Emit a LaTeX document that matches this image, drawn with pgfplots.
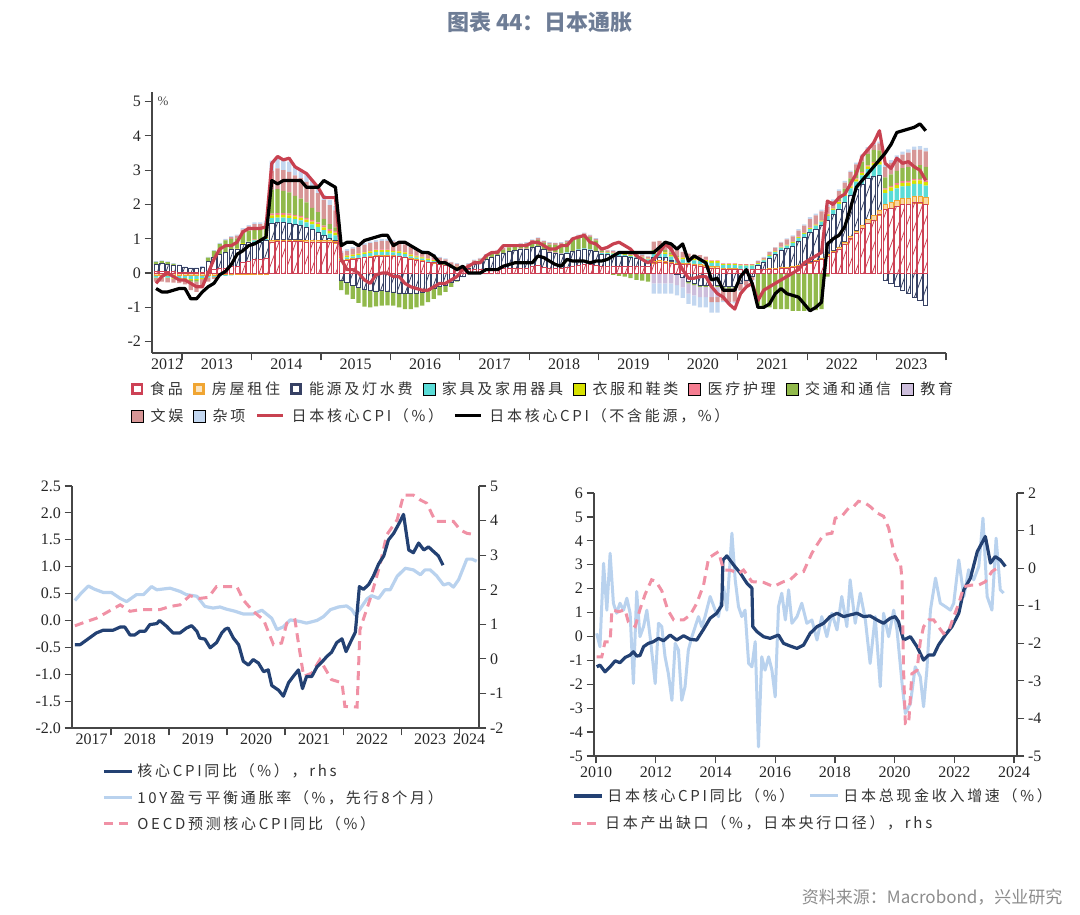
\documentclass[border=0pt]{standalone}
\usepackage{fontspec}
\setmainfont{Liberation Serif}
\newfontfamily\cjk[LetterSpace=18]{Noto Sans CJK SC}
\newfontfamily\cjkt{Noto Sans CJK SC}
\usepackage{pgfplots}
\usepackage{pgfplotstable}
\pgfplotsset{compat=1.18}
\usetikzlibrary{patterns.meta}

\definecolor{cFood}{RGB}{205,65,85}
\definecolor{cRent}{RGB}{240,165,50}
\definecolor{cEnergy}{RGB}{55,65,100}
\definecolor{cFurn}{RGB}{90,220,215}
\definecolor{cCloth}{RGB}{215,225,0}
\definecolor{cMed}{RGB}{245,125,145}
\definecolor{cTrans}{RGB}{145,185,75}
\definecolor{cEdu}{RGB}{205,190,220}
\definecolor{cEnt}{RGB}{215,150,150}
\definecolor{cMisc}{RGB}{195,215,240}
\definecolor{cRedLine}{RGB}{200,65,80}
\definecolor{cNavy}{RGB}{35,65,115}
\definecolor{cLight}{RGB}{185,210,238}
\definecolor{cPink}{RGB}{240,145,165}
\definecolor{axgray}{RGB}{70,70,70}
\definecolor{titlec}{RGB}{110,125,150}

\pgfplotstableread{
i F R E U C M T D N S L K
7 0.05 -0.05 0.20 -0.08 -0.02 0 0.08 0 -0.10 0.02 -0.30 -0.45
8 0.05 -0.05 0.22 -0.08 -0.02 0 0.08 0 -0.10 0.02 -0.10 -0.55
9 0.06 -0.05 0.20 -0.08 -0.02 0 0.06 0 -0.12 0.02 0.00 -0.55
10 0.04 -0.05 0.18 -0.09 -0.02 0 0.05 0 -0.12 0.02 -0.10 -0.50
11 0.03 -0.05 0.18 -0.10 -0.02 0 0.02 0 -0.12 0.02 -0.20 -0.45
12 0.02 -0.05 0.15 -0.10 -0.03 0 0.00 0 -0.15 0.02 -0.20 -0.45
13 0.02 -0.05 0.12 -0.12 -0.03 0 -0.05 0 -0.25 0.02 -0.30 -0.75
14 0.02 -0.05 0.12 -0.12 -0.03 0 -0.05 0 -0.30 0.02 -0.40 -0.75
15 0.03 -0.05 0.15 -0.10 -0.03 0 0.00 0 -0.20 0.02 -0.40 -0.55
16 0.05 -0.05 0.30 -0.08 -0.02 0 0.10 0 -0.10 0.02 0.00 -0.40
17 0.10 -0.05 0.35 -0.06 -0.01 0 0.20 0 -0.05 0.02 0.40 -0.30
18 0.15 -0.04 0.40 -0.05 0 0 0.30 0 0 0.03 0.70 -0.05
19 0.15 -0.04 0.45 -0.04 0 0 0.35 0 0.02 0.03 0.80 0.05
20 0.20 -0.04 0.50 -0.03 0 0 0.30 0 0.05 0.03 0.80 0.25
21 0.20 -0.03 0.50 -0.02 0.01 0 0.30 0 0.08 0.03 0.90 0.55
22 0.30 -0.03 0.55 0 0.02 0 0.30 0 0.10 0.04 1.20 0.65
23 0.35 -0.03 0.55 0.02 0.02 0 0.30 0 0.12 0.04 1.30 0.80
24 0.40 -0.02 0.50 0.05 0.02 0.01 0.30 0 0.15 0.05 1.30 0.85
25 0.40 -0.02 0.50 0.05 0.02 0.01 0.30 0 0.15 0.05 1.30 0.95
26 0.42 -0.02 0.52 0.05 0.02 0.01 0.30 0 0.15 0.05 1.35 1.05
27 0.90 0.05 0.50 0.15 0.08 0.05 0.70 0 0.55 0.30 3.20 2.70
28 0.92 0.05 0.50 0.15 0.08 0.05 0.70 0 0.60 0.30 3.40 2.60
29 0.92 0.05 0.50 0.15 0.08 0.05 0.65 0 0.60 0.30 3.30 2.70
30 0.92 0.05 0.48 0.15 0.08 0.05 0.62 0 0.60 0.30 3.35 2.70
31 0.92 0.05 0.45 0.15 0.08 0.05 0.55 0 0.60 0.25 3.10 2.70
32 0.92 0.05 0.42 0.15 0.08 0.05 0.50 0 0.60 0.25 3.00 2.70
33 0.90 0.05 0.38 0.15 0.08 0.05 0.45 0 0.60 0.22 2.90 2.50
34 0.90 0.05 0.32 0.15 0.08 0.05 0.35 0 0.60 0.20 2.70 2.50
35 0.90 0.05 0.25 0.15 0.08 0.05 0.30 0 0.55 0.20 2.50 2.50
36 0.90 0.05 0.15 0.15 0.08 0.05 0.20 0 0.55 0.15 2.20 2.70
37 0.90 0.05 0.05 0.15 0.08 0.05 0.15 0 0.55 0.15 2.20 2.60
38 0.88 0.05 0.02 0.15 0.08 0.05 0.10 0 0.50 0.12 2.20 2.50
39 0.35 0.02 -0.20 0.05 0.05 0.02 -0.30 0 0.10 0.05 0.40 0.80
40 0.38 0.02 -0.28 0.06 0.05 0.02 -0.35 0 0.12 0.05 0.10 0.90
41 0.40 0.02 -0.35 0.07 0.05 0.02 -0.40 0 0.15 0.05 0.10 0.90
42 0.42 0.02 -0.42 0.08 0.05 0.02 -0.45 0 0.17 0.05 0.00 0.80
43 0.45 0.02 -0.48 0.08 0.05 0.02 -0.50 0 0.20 0.05 -0.20 0.95
44 0.47 0.02 -0.50 0.09 0.05 0.02 -0.50 0 0.22 0.05 -0.30 1.00
45 0.50 0.02 -0.52 0.10 0.05 0.02 -0.45 0 0.22 0.05 -0.05 1.05
46 0.50 0.02 -0.50 0.10 0.05 0.02 -0.45 0 0.25 0.05 0.00 1.10
47 0.50 0.02 -0.52 0.10 0.05 0.02 -0.42 0 0.25 0.05 0.00 1.10
48 0.50 0.02 -0.55 0.08 0.05 0.02 -0.40 0 0.25 0.05 -0.10 0.80
49 0.48 0.02 -0.58 0.08 0.05 0.02 -0.42 0 0.23 0.05 -0.10 0.90
50 0.45 0.02 -0.60 0.08 0.05 0.02 -0.45 0 0.22 0.04 -0.30 0.90
51 0.40 0.02 -0.60 0.07 0.05 0.02 -0.45 0 0.20 0.04 -0.40 0.80
52 0.38 0.01 -0.58 0.06 0.04 0.02 -0.42 0 0.18 0.04 -0.45 0.70
53 0.35 0.01 -0.55 0.06 0.04 0.02 -0.40 0 0.15 0.04 -0.50 0.60
54 0.32 0.01 -0.50 0.05 0.04 0.02 -0.35 0 0.15 0.03 -0.50 0.60
55 0.30 0.01 -0.45 0.04 0.03 0.02 -0.30 0 0.12 0.03 -0.40 0.50
56 0.25 0.01 -0.40 0.03 0.03 0.02 -0.25 0 0.10 0.03 -0.30 0.30
57 0.22 0.01 -0.35 0.02 0.03 0.02 -0.20 0 0.10 0.03 -0.30 0.30
58 0.18 0.01 -0.28 0.01 0.02 0.01 -0.12 0 0.08 0.02 -0.20 0.20
59 0.15 0.01 -0.20 0 0.02 0.01 -0.05 0 0.08 0.02 -0.10 0.10
60 0.10 0 -0.10 -0.02 0.01 0.01 0.02 0 0.05 0.02 0.10 0.20
61 0.10 0 0.05 -0.03 0.01 0.01 0.05 0 0.05 0.02 0.20 0.00
62 0.10 0 0.15 -0.03 0.01 0.01 0.05 0 0.05 0.02 0.30 0.00
63 0.10 0 0.20 -0.03 0 0.01 0.06 0 0.05 0.02 0.30 0.00
64 0.10 0 0.30 -0.03 0 0.01 0.07 0 0.05 0.02 0.50 0.10
65 0.11 0 0.35 -0.03 0 0.01 0.08 0 0.05 0.02 0.60 0.10
66 0.12 0 0.40 -0.03 0 0.01 0.08 0 0.05 0.02 0.60 0.10
67 0.13 0 0.45 -0.03 0 0.01 0.09 0 0.05 0.02 0.80 0.20
68 0.14 0 0.50 -0.02 0 0.01 0.10 0 0.05 0.02 0.80 0.25
69 0.15 0 0.50 -0.02 0 0.01 0.10 0 0.05 0.02 0.80 0.30
70 0.15 0 0.55 -0.02 0 0.01 0.10 0 0.05 0.02 0.80 0.30
71 0.15 0 0.55 -0.02 0 0.01 0.12 0 0.05 0.02 0.80 0.30
72 0.20 0 0.55 0 0 0.01 0.15 0 0.05 0.02 0.90 0.30
73 0.22 0 0.55 0.01 0 0.01 0.18 0 0.05 0.02 0.90 0.50
74 0.18 0 0.50 0.01 0 0.01 0.18 0 0.05 0.02 0.80 0.45
75 0.15 0 0.45 0.02 0 0.01 0.20 0 0.05 0.02 0.70 0.35
76 0.15 0 0.42 0.02 0 0.01 0.22 0 0.05 0.02 0.70 0.25
77 0.15 0 0.40 0.02 0 0.01 0.25 0 0.05 0.02 0.80 0.20
78 0.18 0 0.40 0.02 0 0.01 0.28 0 0.05 0.02 0.80 0.40
79 0.20 0 0.42 0.02 0 0.01 0.32 0 0.05 0.02 1.00 0.35
80 0.22 0 0.45 0.02 0 0.01 0.35 0 0.05 0.02 1.05 0.35
81 0.25 0 0.45 0.02 0 0.01 0.38 0 0.05 0.02 1.10 0.35
82 0.25 0 0.42 0.02 0 0.01 0.35 0 0.05 0.02 0.90 0.30
83 0.22 0 0.40 0.02 0 0.01 0.30 0 0.05 0.02 0.85 0.35
84 0.20 0 0.35 0.03 0.01 0.01 0.05 0 0.05 0.02 0.70 0.35
85 0.20 0 0.35 0.04 0.01 0.01 0 0 0.05 0.02 0.75 0.40
86 0.20 0 0.32 0.05 0.02 0.01 -0.05 0 0.05 0.02 0.85 0.50
87 0.20 0 0.30 0.05 0.02 0.01 -0.08 0 0.05 0.02 0.90 0.60
88 0.20 0 0.28 0.05 0.02 0.01 -0.10 0 0.05 0.02 0.80 0.60
89 0.20 0 0.25 0.05 0.02 0.01 -0.15 0 0.05 0.02 0.70 0.60
90 0.20 0 0.22 0.05 0.02 0.01 -0.20 0 0.05 0.02 0.50 0.60
91 0.20 0 0.20 0.05 0.02 0.01 -0.22 0 0.05 0.02 0.40 0.60
92 0.20 0 0.15 0.05 0.02 0.01 -0.25 0 0.05 0.02 0.30 0.60
93 0.30 0.05 0.10 0.10 0.05 0.02 0.05 -0.30 0.25 -0.30 0.40 0.60
94 0.32 0.05 0.10 0.10 0.05 0.02 0.05 -0.30 0.25 -0.30 0.60 0.75
95 0.30 0.05 0.10 0.10 0.05 0.02 0.05 -0.30 0.25 -0.30 0.85 0.90
96 0.28 0.05 0.05 0.10 0.05 0.02 0.05 -0.30 0.22 -0.30 0.70 0.85
97 0.25 0.05 -0.05 0.10 0.05 0.02 0.03 -0.30 0.20 -0.30 0.40 0.70
98 0.25 0.05 -0.12 0.10 0.05 0.02 0 -0.30 0.15 -0.30 0.10 0.85
99 0.25 0.05 -0.25 0.10 0.05 0.02 -0.05 -0.30 0.10 -0.30 -0.15 0.35
100 0.22 0.05 -0.30 0.10 0.05 0.02 -0.05 -0.30 0.10 -0.30 -0.15 0.50
101 0.20 0.05 -0.35 0.10 0.05 0.02 -0.05 -0.30 0.10 -0.30 -0.10 0.40
102 0.18 0.05 -0.35 0.10 0.05 0.02 -0.05 -0.30 0.08 -0.30 -0.10 0.30
103 0.15 0.05 -0.35 0.10 0.05 0.02 -0.05 -0.30 -0.15 -0.30 -0.40 -0.20
104 0.15 0.05 -0.35 0.10 0.05 0.02 -0.05 -0.30 -0.15 -0.30 -0.60 -0.15
105 0.10 0.03 -0.40 0.10 0.03 0.02 -0.05 0 -0.35 -0.05 -0.70 -0.50
106 0.10 0.03 -0.40 0.10 0.03 0.02 -0.05 0 -0.40 -0.05 -0.90 -0.50
107 0.10 0.03 -0.38 0.10 0.03 0.02 -0.05 0 -0.40 -0.05 -1.05 -0.50
108 0.10 0.02 -0.30 0.10 0.02 0.02 0 0 -0.20 -0.02 -0.60 -0.10
109 0.10 0.02 -0.20 0.10 0.02 0.02 0 0 -0.15 -0.02 -0.40 0.10
110 0.10 0.02 -0.10 0.10 0.02 0.02 0 0 -0.10 -0.02 -0.30 -0.30
111 0.10 0.02 0.10 0.05 0.02 0.01 -0.95 0 0.05 0.02 -0.80 -1.00
112 0.10 0.02 0.20 0.05 0.02 0.01 -1.00 0 0.05 0.02 -0.50 -1.00
113 0.12 0.02 0.30 0.06 0.02 0.01 -1.00 0 0.08 0.02 -0.40 -0.90
114 0.12 0.02 0.40 0.07 0.02 0.01 -1.05 0 0.10 0.02 -0.30 -0.60
115 0.14 0.02 0.50 0.08 0.02 0.01 -1.05 0 0.12 0.02 -0.20 -0.45
116 0.15 0.02 0.55 0.08 0.02 0.01 -1.05 0 0.15 0.03 -0.10 -0.60
117 0.17 0.02 0.60 0.09 0.03 0.01 -1.10 0 0.15 0.03 0.00 -0.65
118 0.20 0.02 0.70 0.10 0.03 0.01 -1.10 0 0.18 0.04 0.10 -0.70
119 0.22 0.02 0.80 0.10 0.03 0.01 -1.10 0 0.20 0.04 0.30 -0.90
120 0.30 0.03 0.85 0.10 0.03 0.02 -1.10 0 0.25 0.05 0.40 -1.10
121 0.35 0.03 0.90 0.10 0.03 0.02 -1.08 0 0.25 0.05 0.50 -1.00
122 0.40 0.04 0.95 0.11 0.03 0.02 -1.05 0 0.25 0.05 0.60 -0.85
123 0.50 0.05 1.00 0.12 0.04 0.02 -0.10 0 0.20 0.05 2.10 0.85
124 0.60 0.05 1.05 0.14 0.04 0.02 -0.02 0 0.20 0.05 2.00 1.00
125 0.70 0.06 1.10 0.16 0.05 0.02 0.10 0 0.20 0.05 2.20 1.10
126 0.85 0.06 1.15 0.18 0.05 0.02 0.15 0 0.18 0.05 2.30 1.35
127 1.00 0.07 1.20 0.20 0.06 0.03 0.20 0 0.18 0.05 2.60 1.90
128 1.15 0.08 1.22 0.22 0.06 0.03 0.25 0 0.16 0.05 2.90 2.50
129 1.30 0.10 1.20 0.25 0.07 0.03 0.30 0 0.15 0.05 3.40 2.70
130 1.45 0.12 1.18 0.28 0.08 0.03 0.33 0 0.15 0.05 3.60 2.90
131 1.55 0.13 1.15 0.30 0.08 0.03 0.35 0 0.15 0.05 3.80 3.10
132 1.70 0.14 1.00 0.32 0.09 0.03 0.30 0 0.20 0.05 4.15 3.30
133 1.85 0.15 -0.20 0.33 0.10 0.04 0.32 0 0.30 0.08 3.20 3.50
134 1.90 0.16 -0.30 0.34 0.10 0.04 0.34 0 0.33 0.08 3.05 3.75
135 1.95 0.17 -0.40 0.35 0.10 0.05 0.36 0 0.36 0.09 3.35 4.10
136 2.00 0.18 -0.50 0.35 0.10 0.05 0.38 0 0.39 0.09 3.20 4.15
137 2.00 0.19 -0.60 0.35 0.10 0.05 0.40 0 0.42 0.10 3.25 4.20
138 2.05 0.20 -0.70 0.35 0.10 0.05 0.40 0 0.44 0.10 3.10 4.25
139 2.05 0.20 -0.80 0.35 0.10 0.05 0.40 0 0.45 0.10 3.00 4.35
140 2.00 0.20 -0.95 0.35 0.10 0.05 0.40 0 0.45 0.10 2.70 4.15
}\cpicomp

\pgfplotsset{
  sqleg/.style={legend image code/.code={\fill[##1] (0pt,-6pt) rectangle (12pt,6pt);}},
  sqlegh/.style={legend image code/.code={\draw[##1] (1.3pt,-4.7pt) rectangle (10.7pt,4.7pt);}},
  linleg/.style={legend image code/.code={\draw[##1] (0pt,0pt) -- (26pt,0pt);}},
  linlegb/.style={legend image code/.code={\draw[##1] (0pt,0pt) -- (28pt,0pt);}},
  myleg/.style={legend style={draw=none, fill=none, inner sep=0pt,
      font=\cjk\fontsize{15}{17}\selectfont, text=black!80,
      /tikz/every even column/.append style={column sep=#1}},
      legend cell align=left},
  imgsep/.style={legend style={/tikz/every odd column/.append style={column sep=#1}}},
  common/.style={scale only axis, /pgf/number format/assume math mode=true,
      tick label style={font=\fontsize{16}{18}\selectfont, text=black!85},
      axis line style={line width=1.2pt, color=axgray},
      tick style={line width=1.2pt, color=axgray},
      major tick length=7.5pt, tick align=outside,
      /pgf/number format/1000 sep={}},
  topgeom/.style={common, width=794pt, height=261pt, at={(152pt,562pt)}, anchor=south west,
      xmin=6.3, xmax=143.5, ymin=-2.33, ymax=5.28},
  barF/.style={draw=cFood, line width=0.8pt, pattern={Lines[angle=70,distance=8pt,line width=0.8pt]}, pattern color=cFood},
  barR/.style={draw=cRent, line width=0.5pt, fill=cRent!45},
  barE/.style={draw=cEnergy, line width=0.8pt, pattern={Lines[angle=70,distance=8pt,line width=0.8pt]}, pattern color=cEnergy},
  barU/.style={draw=none, fill=cFurn},
  barC/.style={draw=none, fill=cCloth},
  barM/.style={draw=none, fill=cMed},
  barT/.style={draw=none, fill=cTrans},
  barD/.style={draw=none, fill=cEdu},
  barN/.style={draw=none, fill=cEnt},
  barS/.style={draw=none, fill=cMisc},
}

\begin{document}
\begin{tikzpicture}[x=1pt,y=1pt]
\path[use as bounding box] (0,0) rectangle (1080,915);

\node[font=\cjkt\bfseries\fontsize{22}{26}\selectfont, text=titlec] at (540,893) {图表 44：日本通胀};
\node[anchor=east, font=\cjkt\fontsize{17}{20}\selectfont, text=black!45] at (1066,18) {资料来源：Macrobond，兴业研究};

% ---------- top: negative parts
\begin{axis}[topgeom, hide axis, ybar stacked, bar width=0.74, stacked ignores zero]
\addplot[barF] table[x=i, y expr={min(\thisrow{F},0)}] {\cpicomp};
\addplot[barR] table[x=i, y expr={min(\thisrow{R},0)}] {\cpicomp};
\addplot[barE] table[x=i, y expr={min(\thisrow{E},0)}] {\cpicomp};
\addplot[barU] table[x=i, y expr={min(\thisrow{U},0)}] {\cpicomp};
\addplot[barC] table[x=i, y expr={min(\thisrow{C},0)}] {\cpicomp};
\addplot[barM] table[x=i, y expr={min(\thisrow{M},0)}] {\cpicomp};
\addplot[barT] table[x=i, y expr={min(\thisrow{T},0)}] {\cpicomp};
\addplot[barD] table[x=i, y expr={min(\thisrow{D},0)}] {\cpicomp};
\addplot[barN] table[x=i, y expr={min(\thisrow{N},0)}] {\cpicomp};
\addplot[barS] table[x=i, y expr={min(\thisrow{S},0)}] {\cpicomp};
\end{axis}
% ---------- top: positive parts
\begin{axis}[topgeom, hide axis, ybar stacked, bar width=0.74, stacked ignores zero]
\addplot[barF] table[x=i, y expr={max(\thisrow{F},0)}] {\cpicomp};
\addplot[barR] table[x=i, y expr={max(\thisrow{R},0)}] {\cpicomp};
\addplot[barE] table[x=i, y expr={max(\thisrow{E},0)}] {\cpicomp};
\addplot[barU] table[x=i, y expr={max(\thisrow{U},0)}] {\cpicomp};
\addplot[barC] table[x=i, y expr={max(\thisrow{C},0)}] {\cpicomp};
\addplot[barM] table[x=i, y expr={max(\thisrow{M},0)}] {\cpicomp};
\addplot[barT] table[x=i, y expr={max(\thisrow{T},0)}] {\cpicomp};
\addplot[barD] table[x=i, y expr={max(\thisrow{D},0)}] {\cpicomp};
\addplot[barN] table[x=i, y expr={max(\thisrow{N},0)}] {\cpicomp};
\addplot[barS] table[x=i, y expr={max(\thisrow{S},0)}] {\cpicomp};
\end{axis}
% ---------- top: legend row 1
\begin{axis}[topgeom, hide axis, legend columns=8, myleg=8pt, imgsep=5pt,
   legend style={at={(-0.0264,-0.138)}, anchor=west}]
\addlegendimage{sqlegh, draw=cFood, line width=2.6pt, fill=white}\addlegendentry{食品}
\addlegendimage{sqlegh, draw=cRent, line width=2.6pt, fill=cRent!30}\addlegendentry{房屋租住}
\addlegendimage{sqlegh, draw=cEnergy, line width=2.6pt, fill=white}\addlegendentry{能源及灯水费}
\addlegendimage{sqleg, fill=cFurn}\addlegendentry{家具及家用器具}
\addlegendimage{sqleg, fill=cCloth}\addlegendentry{衣服和鞋类}
\addlegendimage{sqleg, fill=cMed}\addlegendentry{医疗护理}
\addlegendimage{sqleg, fill=cTrans}\addlegendentry{交通和通信}
\addlegendimage{sqleg, fill=cEdu}\addlegendentry{教育}
\end{axis}
% ---------- top: axes, lines, legend row 2
\begin{axis}[topgeom, axis x line*=bottom, axis y line*=left,
   ytick={-2,-1,0,1,2,3,4,5},
   xtick={11.5,23.5,35.5,47.5,59.5,71.5,83.5,95.5,107.5,119.5,131.5,143.5}, xticklabels={},
   extra x ticks={8.9,17.5,29.5,41.5,53.5,65.5,77.5,89.5,101.5,113.5,125.5,137.5},
   extra x tick labels={2012,2013,2014,2015,2016,2017,2018,2019,2020,2021,2022,2023},
   extra x tick style={major tick length=0pt, tick label style={yshift=-2pt}},
   legend columns=4, myleg=8pt, imgsep=5pt,
   legend style={at={(-0.0264,-0.241)}, anchor=west}]
\addlegendimage{sqleg, fill=cEnt}\addlegendentry{文娱}
\addlegendimage{sqleg, fill=cMisc}\addlegendentry{杂项}
\addplot[cRedLine, line width=3.2pt, line join=round, linleg] table[x=i, y=L] {\cpicomp};
\addlegendentry{日本核心CPI（\%）}
\addplot[black, line width=3.2pt, line join=round, linleg] table[x=i, y=K] {\cpicomp};
\addlegendentry{日本核心CPI（不含能源，\%）}
\node[anchor=center, font=\fontsize{13}{13}\selectfont, text=black!70] at (rel axis cs:0.014,0.965) {\%};
\end{axis}

% ---------- bottom-left: left axis
\begin{axis}[common, width=407pt, height=242pt, at={(72pt,187pt)}, anchor=south west,
   xmin=2017.33, xmax=2024.34, ymin=-2, ymax=2.5,
   axis x line*=bottom, axis y line*=left,
   ytick={-2,-1.5,-1,-0.5,0,0.5,1,1.5,2,2.5},
   yticklabel style={/pgf/number format/fixed, /pgf/number format/fixed zerofill, /pgf/number format/precision=1},
   xtick={2018,2019,2020,2021,2022,2023,2024}, xticklabels={},
   extra x ticks={2017.67,2018.5,2019.5,2020.5,2021.5,2022.5,2023.5,2024.17},
   extra x tick labels={2017,2018,2019,2020,2021,2022,2023,2024},
   extra x tick style={major tick length=0pt, tick label style={yshift=-2pt}}]
\addplot[cLight, line width=3.2pt, line join=round] coordinates {
(2017.38,0.37)(2017.49,0.51)(2017.61,0.64)(2017.72,0.58)(2017.87,0.52)(2018.01,0.52)(2018.16,0.41)(2018.27,0.35)(2018.44,0.48)(2018.56,0.48)(2018.7,0.63)(2018.79,0.57)(2019.02,0.6)(2019.19,0.54)(2019.3,0.48)(2019.48,0.45)(2019.62,0.26)(2019.76,0.23)(2019.88,0.25)(2019.99,0.21)(2020.14,0.17)(2020.28,0.12)(2020.45,0.12)(2020.6,0.19)(2020.77,0.04)(2020.86,-0.17)(2020.97,-0.12)(2021.09,0.01)(2021.26,-0.02)(2021.37,-0.05)(2021.55,0)(2021.66,0.07)(2021.78,0.2)(2021.92,0.25)(2022.06,0.27)(2022.15,0.2)(2022.21,0.1)(2022.29,0.21)(2022.41,0.4)(2022.49,0.46)(2022.61,0.41)(2022.72,0.57)(2022.81,0.57)(2022.93,0.82)(2023.07,0.97)(2023.21,0.94)(2023.33,0.85)(2023.41,0.94)(2023.5,0.94)(2023.61,0.83)(2023.73,0.66)(2023.82,0.69)(2023.9,0.62)(2023.99,0.76)(2024.13,1.14)(2024.22,1.14)(2024.3,1.1)};
\addplot[cPink, line width=3pt, dash pattern=on 9pt off 6pt] coordinates {
(2017.38,-0.1)(2017.58,-0.02)(2017.75,0.04)(2017.93,0.15)(2018.16,0.29)(2018.33,0.17)(2018.5,0.2)(2018.84,0.2)(2019.02,0.26)(2019.19,0.29)(2019.36,0.46)(2019.53,0.41)(2019.68,0.43)(2019.82,0.63)(2020.17,0.63)(2020.28,0.38)(2020.45,0.17)(2020.63,0.01)(2020.8,-0.45)(2020.94,-0.42)(2021.03,-0.05)(2021.17,0.01)(2021.23,-0.42)(2021.32,-1.04)(2021.46,-0.98)(2021.6,-0.73)(2021.8,-1.1)(2021.98,-1.16)(2022.03,-1.6)(2022.24,-1.61)(2022.29,-0.17)(2022.49,0.48)(2022.64,1.06)(2022.75,1.59)(2022.93,1.87)(2023.04,2.33)(2023.21,2.33)(2023.33,2.24)(2023.44,2.18)(2023.59,1.84)(2023.9,1.84)(2024.02,1.68)(2024.13,1.62)(2024.3,1.59)};
\end{axis}
% ---------- bottom-left: right axis
\begin{axis}[common, width=407pt, height=242pt, at={(72pt,187pt)}, anchor=south west,
   xmin=2017.33, xmax=2024.34, ymin=-2, ymax=5,
   axis y line*=right, axis x line=none, ytick={-2,-1,0,1,2,3,4,5},
   myleg=0pt, imgsep=2pt, legend style={at={(0.0737,-0.14)}, anchor=north west, row sep=8pt}]
\addplot[cNavy, line width=3.2pt, line join=round, linlegb] coordinates {
(2017.38,0.41)(2017.47,0.41)(2017.75,0.75)(2017.87,0.83)(2018.04,0.83)(2018.16,0.92)(2018.24,0.92)(2018.33,0.69)(2018.41,0.69)(2018.5,0.8)(2018.59,0.8)(2018.67,0.99)(2018.79,1.02)(2018.84,1.11)(2018.96,0.94)(2019.07,0.75)(2019.19,0.75)(2019.3,0.89)(2019.39,0.96)(2019.48,0.8)(2019.53,0.6)(2019.62,0.57)(2019.71,0.32)(2019.82,0.47)(2019.91,0.75)(2019.97,0.86)(2020.02,0.89)(2020.11,0.6)(2020.2,0.41)(2020.28,-0.07)(2020.37,-0.18)(2020.45,-0.02)(2020.54,-0.12)(2020.63,-0.37)(2020.71,-0.32)(2020.77,-0.77)(2020.89,-0.91)(2020.97,-1.08)(2021.06,-0.69)(2021.14,-0.51)(2021.23,-0.32)(2021.3,-0.86)(2021.37,-0.51)(2021.46,-0.51)(2021.55,-0.23)(2021.63,-0.1)(2021.72,0.07)(2021.8,0.19)(2021.89,0.47)(2021.98,0.58)(2022.05,0.21)(2022.12,0.46)(2022.21,0.77)(2022.28,2.09)(2022.35,2.01)(2022.44,2.15)(2022.52,2.39)(2022.61,2.74)(2022.7,2.98)(2022.78,3.44)(2022.87,3.63)(2022.98,3.97)(2023.04,4.18)(2023.13,3.15)(2023.21,3.07)(2023.3,3.35)(2023.39,3.15)(2023.47,3.24)(2023.56,3.1)(2023.64,2.98)(2023.72,2.71)};
\addlegendentry{核心CPI同比（\%），rhs}
\addlegendimage{linlegb, cLight, line width=3.2pt}\addlegendentry{10Y盈亏平衡通胀率（\%，先行8个月）}
\addlegendimage{linlegb, cPink, line width=3pt, dash pattern=on 9pt off 6pt}\addlegendentry{OECD预测核心CPI同比（\%）}
\end{axis}

% ---------- bottom-right: left axis
\begin{axis}[common, width=423pt, height=263pt, at={(594pt,159pt)}, anchor=south west,
   xmin=2009.93, xmax=2024.1, ymin=-5, ymax=6,
   axis x line*=bottom, axis y line*=left,
   ytick={-5,-4,-3,-2,-1,0,1,2,3,4,5,6},
   xtick={2010,2012,2014,2016,2018,2020,2022,2024},
   legend columns=2, myleg=12pt, imgsep=2pt, legend style={at={(-0.052,-0.152)}, anchor=west}]
\addplot[cLight, line width=3pt, line join=round, forget plot] coordinates {
(2010.02,0.13)(2010.13,-0.43)(2010.25,3.06)(2010.36,1.1)(2010.47,3.48)(2010.58,1.39)(2010.69,0.97)(2010.80,1.39)(2010.92,1.1)(2011.03,1.6)(2011.14,0.97)(2011.25,-1.97)(2011.36,1.88)(2011.47,-0.01)(2011.59,0.41)(2011.70,1.1)(2011.81,-0.01)(2011.98,-1.97)(2012.09,0.55)(2012.20,0.41)(2012.31,-0.85)(2012.42,-1.55)(2012.54,-2.67)(2012.65,-0.29)(2012.76,-0.57)(2012.87,-2.67)(2012.98,-2.1)(2013.09,-0.57)(2013.21,-0.01)(2013.32,0.41)(2013.43,0.83)(2013.54,0.41)(2013.65,0.83)(2013.82,1.67)(2013.99,1.1)(2014.10,0.83)(2014.27,2.09)(2014.38,1.1)(2014.55,4.32)(2014.66,2.37)(2014.77,1.25)(2014.88,0.83)(2014.99,1.1)(2015.11,-1.13)(2015.22,-1.27)(2015.33,-0.22)(2015.44,-4.62)(2015.55,-0.85)(2015.66,-1.41)(2015.78,-0.85)(2015.89,-1.41)(2016.00,-2.53)(2016.11,1.25)(2016.22,1.81)(2016.34,0.69)(2016.45,1.95)(2016.56,0.55)(2016.73,0.83)(2016.89,1.39)(2017.06,0.55)(2017.23,0.69)(2017.40,-0.15)(2017.56,0.83)(2017.73,-0.01)(2017.90,0.97)(2018.07,0.27)(2018.23,1.67)(2018.40,0.41)(2018.51,2.37)(2018.68,0.55)(2018.85,1.81)(2019.02,0.69)(2019.18,-1.13)(2019.35,0.83)(2019.52,-2.1)(2019.63,0.97)(2019.80,-0.01)(2019.97,1.1)(2020.08,0.27)(2020.25,-1.97)(2020.36,-3.22)(2020.53,-2.8)(2020.69,-1.27)(2020.86,-1.69)(2020.97,-2.94)(2021.08,-1.41)(2021.20,1.1)(2021.37,2.44)(2021.53,1.39)(2021.70,1.25)(2021.87,1.1)(2021.98,1.39)(2022.15,3.2)(2022.32,1.67)(2022.48,2.79)(2022.65,2.37)(2022.82,2.93)(2022.96,4.95)(2023.10,1.67)(2023.26,1.1)(2023.40,4.11)(2023.54,1.95)(2023.65,1.81)};
\addplot[cNavy, line width=3.2pt, line join=round, linlegb] coordinates {
(2010.02,-1.27)(2010.13,-1.2)(2010.30,-1.48)(2010.47,-1.27)(2010.64,-1.02)(2010.80,-1.1)(2010.97,-0.88)(2011.14,-0.78)(2011.25,-0.64)(2011.36,-0.82)(2011.47,-0.8)(2011.59,-0.43)(2011.75,-0.29)(2011.92,-0.22)(2012.09,-0.08)(2012.26,-0.18)(2012.48,0.06)(2012.70,-0.15)(2012.93,0.03)(2013.15,-0.12)(2013.37,-0.15)(2013.60,0.3)(2013.82,0.76)(2014.04,0.97)(2014.21,1.3)(2014.25,3.2)(2014.38,3.37)(2014.60,3.0)(2014.83,2.65)(2015.05,2.23)(2015.22,2.02)(2015.25,0.41)(2015.39,0.2)(2015.61,-0.01)(2015.83,-0.08)(2016.11,0.06)(2016.28,-0.29)(2016.50,-0.4)(2016.73,-0.5)(2016.95,-0.36)(2017.17,0.13)(2017.40,0.41)(2017.62,0.55)(2017.84,0.83)(2018.07,0.97)(2018.29,0.83)(2018.51,0.9)(2018.74,0.97)(2018.96,0.83)(2019.18,0.86)(2019.41,0.69)(2019.63,0.55)(2019.85,0.76)(2020.02,0.83)(2020.13,0.62)(2020.30,-0.15)(2020.53,-0.01)(2020.75,-0.43)(2020.97,-0.99)(2021.14,-0.78)(2021.31,-0.78)(2021.47,-0.36)(2021.70,0.06)(2021.92,0.41)(2022.15,0.97)(2022.32,1.95)(2022.54,2.44)(2022.77,3.55)(2023.04,4.18)(2023.21,3.07)(2023.37,3.34)(2023.54,3.2)(2023.71,2.93)};
\addlegendentry{日本核心CPI同比（\%）}
\addlegendimage{linlegb, cLight, line width=3pt}\addlegendentry{日本总现金收入增速（\%）}
\end{axis}
% ---------- bottom-right: right axis
\begin{axis}[common, width=423pt, height=263pt, at={(594pt,159pt)}, anchor=south west,
   xmin=2009.93, xmax=2024.1, ymin=-5, ymax=2,
   axis y line*=right, axis x line=none, ytick={-5,-4,-3,-2,-1,0,1,2},
   myleg=0pt, imgsep=2pt, legend style={at={(-0.0567,-0.2548)}, anchor=west}]
\addplot[cPink, line width=3pt, dash pattern=on 9pt off 6pt, linlegb] coordinates {
(2010.02,-2.36)(2010.19,-2.36)(2010.30,-1.96)(2010.47,-1.96)(2010.53,-1.11)(2010.75,-1.16)(2010.97,-1.11)(2011.08,-1.43)(2011.31,-1.55)(2011.47,-1.1)(2011.64,-0.7)(2011.86,-0.31)(2012.0,-0.35)(2012.20,-0.6)(2012.40,-1.11)(2012.60,-1.38)(2012.93,-1.38)(2013.15,-1.25)(2013.37,-0.94)(2013.60,-0.45)(2013.77,0.27)(2014.10,0.44)(2014.27,-0.05)(2014.49,-0.05)(2014.77,-0.14)(2014.94,-0.05)(2015.22,-0.36)(2015.61,-0.38)(2015.94,-0.49)(2016.28,-0.36)(2016.50,-0.31)(2016.73,-0.14)(2016.95,-0.09)(2017.23,0.4)(2017.40,0.62)(2017.62,0.89)(2017.90,0.93)(2018.01,1.33)(2018.23,1.38)(2018.46,1.6)(2018.63,1.64)(2018.79,1.78)(2019.02,1.73)(2019.18,1.64)(2019.41,1.47)(2019.63,1.38)(2019.80,1.07)(2019.97,0.44)(2020.08,0.22)(2020.19,0.18)(2020.25,-0.31)(2020.30,-2.72)(2020.36,-4.14)(2020.47,-4.14)(2020.58,-2.81)(2020.75,-2.72)(2020.86,-1.96)(2020.97,-1.56)(2021.14,-1.38)(2021.31,-1.38)(2021.47,-1.56)(2021.64,-1.74)(2021.82,-1.65)(2021.98,-1.29)(2022.15,-0.94)(2022.32,-0.49)(2022.60,-0.45)(2022.82,-0.45)(2023.04,-0.36)(2023.26,-0.09)(2023.43,0.0)};
\addlegendentry{日本产出缺口（\%，日本央行口径），rhs}
\end{axis}
\end{tikzpicture}
\end{document}
